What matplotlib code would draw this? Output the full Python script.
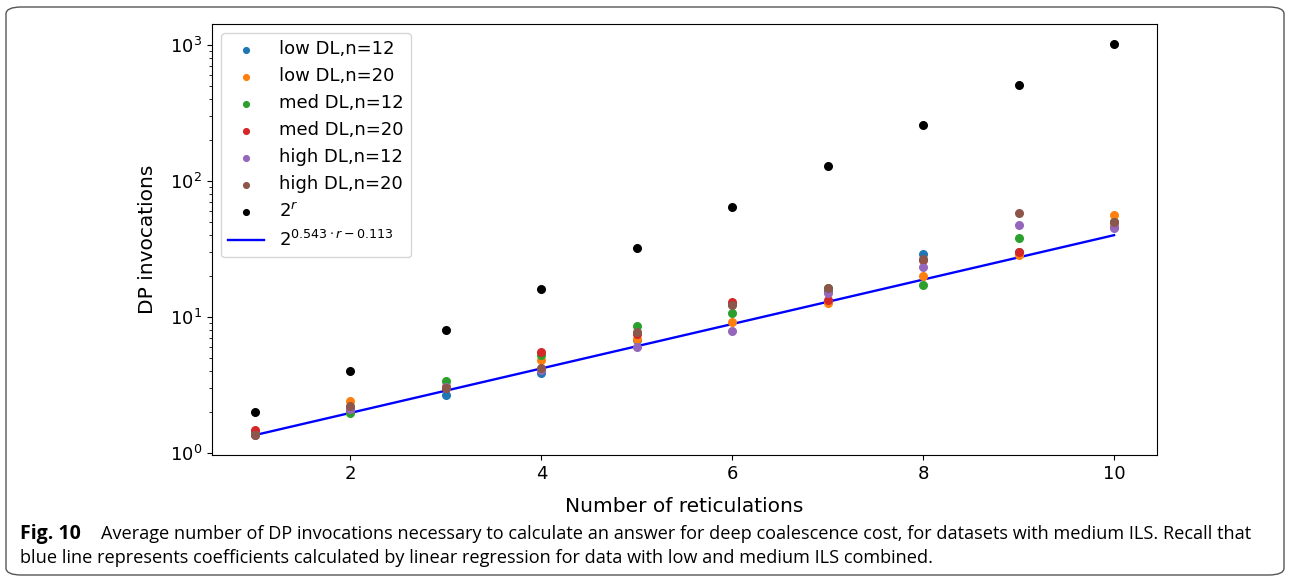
import matplotlib
matplotlib.use("Agg")
import matplotlib.pyplot as plt
import numpy as np
from matplotlib.patches import FancyBboxPatch

reticulations = [1, 2, 3, 4, 5, 6, 7, 8, 9, 10]
low_n12 = [1.38, 2.05, 2.65, 3.85, 6.7, 12.5, 15.5, 29.1, 30.0, 50.0]
low_n20 = [1.42, 2.40, 3.10, 4.80, 6.9, 9.2, 12.7, 20.0, 28.6, 56.3]
med_n12 = [1.40, 1.95, 3.38, 5.20, 8.6, 10.7, 16.3, 17.0, 37.9, 49.7]
med_n20 = [1.47, 2.10, 3.00, 5.55, 7.5, 12.8, 13.3, 26.0, 30.2, 45.5]
high_n12 = [1.34, 2.08, 3.05, 4.05, 6.0, 7.8, 14.9, 23.4, 47.0, 45.1]
high_n20 = [1.36, 2.19, 3.00, 4.20, 7.7, 12.3, 16.3, 26.6, 58.0, 49.7]
labels = ["low DL,n=12", "low DL,n=20", "med DL,n=12",
          "med DL,n=20", "high DL,n=12", "high DL,n=20"]
fit_a, fit_b = 0.543, 0.113

caption_bold = "Fig. 10"
caption_1 = ("Average number of DP invocations necessary to calculate an answer for deep "
             "coalescence cost, for datasets with medium ILS. Recall that")
caption_2 = ("blue line represents coefficients calculated by linear regression for data "
             "with low and medium ILS combined.")

W, H = 1290, 582
fig = plt.figure(figsize=(W / 100, H / 100), dpi=100)
ax = fig.add_axes([212 / W, 1 - 455 / H, (1157 - 212) / W, (455 - 24) / H])

r = np.array(reticulations)
for vals, lab in zip([low_n12, low_n20, med_n12, med_n20, high_n12, high_n20], labels):
    ax.scatter(r, vals, s=30, label=lab, zorder=3)
ax.scatter(r, 2.0 ** r, s=30, color="black", label="$2^r$", zorder=3)
ax.plot(r, 2.0 ** (fit_a * r - fit_b), color="blue", linewidth=1.7,
        label=r"$2^{0.543 \cdot r - 0.113}$")

ax.set_yscale("log")
ax.set_xticks([2, 4, 6, 8, 10])
ax.tick_params(labelsize=13)
ax.set_xlabel("Number of reticulations", fontsize=14.5, labelpad=10)
ax.set_ylabel("DP invocations", fontsize=14.5, labelpad=9)
ax.legend(loc="upper left", fontsize=13, handletextpad=0.8, markerscale=0.75)

# rounded frame and caption, like the journal figure box
frame = FancyBboxPatch((6 / W, 7 / H), (W - 12) / W, (H - 14) / H,
                       boxstyle="round,pad=0,rounding_size=0.012",
                       transform=fig.transFigure, facecolor="none",
                       edgecolor="#555555", linewidth=1.0)
fig.patches.append(frame)

fig.text(20 / W, 1 - 534 / H, caption_bold, fontsize=14, fontweight="bold",
         family="Open Sans", va="center")
fig.text(101 / W, 1 - 534 / H, caption_1, fontsize=13.05, family="Open Sans", va="center")
fig.text(20 / W, 1 - 558 / H, caption_2, fontsize=13.05, family="Open Sans", va="center")

fig.savefig("out.png", dpi=100)
